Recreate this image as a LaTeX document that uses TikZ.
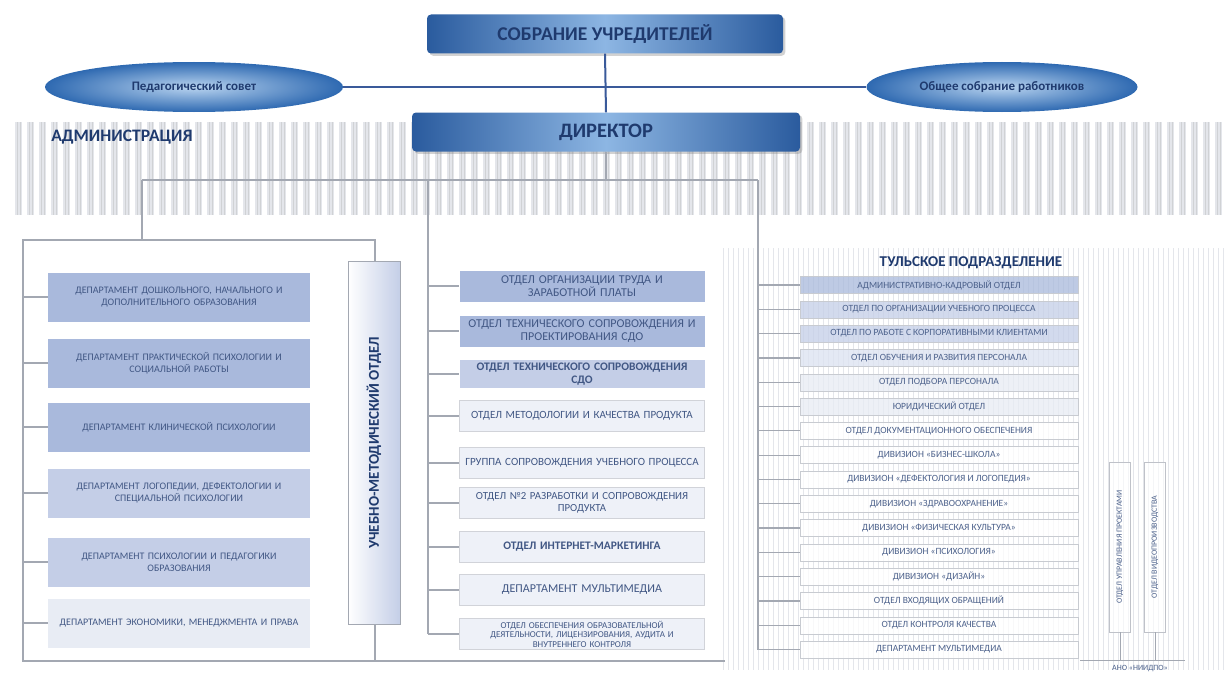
\documentclass[tikz,border=0pt]{standalone}
\usepackage{fontspec}
\setmainfont{Carlito}
\usetikzlibrary{shapes.geometric}
\usetikzlibrary{shadows}

\definecolor{navy}{HTML}{1F3A6E}
\definecolor{linkgray}{HTML}{A3A8B2}
\definecolor{topline}{HTML}{3A5A9A}
\definecolor{darkblue}{HTML}{2A5B9E}
\definecolor{lightblue}{HTML}{8DB6E3}
\definecolor{ovalin}{HTML}{B9D4F0}
\definecolor{ovalout}{HTML}{2E69B1}
\definecolor{deptA}{HTML}{A9B9DC}
\definecolor{deptB}{HTML}{C4CEE7}
\definecolor{deptC}{HTML}{E8ECF4}
\definecolor{paleA}{HTML}{EEF1F8}
\definecolor{stripe}{HTML}{E4E6EB}

\tikzset{
  headbox/.style={rounded corners=4pt, minimum width=356pt, minimum height=39pt,
    left color=darkblue, right color=darkblue, middle color=lightblue,
    drop shadow={opacity=0.35}, text=navy, font=\fontsize{19.5}{21}\selectfont\bfseries},
  ovalbox/.style={ellipse, minimum width=298pt, minimum height=50pt,
    inner color=ovalin, outer color=ovalout, text=navy, font=\fontsize{13}{15}\selectfont\bfseries},
  bandtitle/.style={text=navy, font=\fontsize{17.5}{19}\selectfont\bfseries},
  link/.style={draw=linkgray, line width=1.2pt},
  toplink/.style={draw=topline, line width=2pt},
  deptbox/.style={minimum width=262pt, minimum height=49pt, text width=252pt, align=center,
    text=navy!85, font=\fontsize{10}{12}\selectfont},
  midbox/.style={minimum width=245pt, minimum height=31pt, text width=241pt, align=center,
    inner sep=1pt, text=navy!85, font=\fontsize{12}{13}\selectfont},
  tulbox/.style={minimum width=278pt, minimum height=17pt, inner sep=1pt,
    draw=linkgray!60, text=navy!80, font=\fontsize{9.5}{10}\selectfont},
  vbox/.style={rotate=90, minimum width=170pt, minimum height=21pt, inner sep=1pt,
    draw=linkgray!70, fill=white, fill opacity=0.6, text opacity=1,
    text=navy!80, font=\fontsize{8}{9}\selectfont}
}

\begin{document}
\begin{tikzpicture}[x=1pt,y=-1pt]
  \useasboundingbox (0,0) rectangle (1224,677);
  \fill[white] (0,0) rectangle (1224,677);

  % striped bands
  \foreach \s in {0,...,100} {
    \fill[stripe] ({15+12*\s},122) rectangle ({22+12*\s},215);
    \draw[stripe!80!gray, line width=0.3pt] ({17+12*\s},122) -- ({17+12*\s},215);
    \draw[stripe!80!gray, line width=0.3pt] ({20+12*\s},122) -- ({20+12*\s},215);
  }
  \foreach \s in {0,...,100}
    \draw[stripe, line width=1pt] ({723+5*\s},248) -- ({723+5*\s},670);

  % top level
  \node[headbox] (sobr) at (605,34) {СОБРАНИЕ УЧРЕДИТЕЛЕЙ};
  \node[headbox, minimum width=388pt, font=\fontsize{20.5}{22}\selectfont\bfseries] (dir) at (606,132) {ДИРЕКТОР};
  \node[ovalbox] (pedsov) at (194,87) {Педагогический совет};
  \node[ovalbox, minimum width=271pt] (obsch) at (1002,87) {Общее собрание работников};
  \draw[toplink] (pedsov.east) -- (obsch.west);
  \draw[toplink] (sobr.south) -- (dir.north);
  \node[bandtitle] (adm) at (122,137) {АДМИНИСТРАЦИЯ};

  % branches under the director
  \coordinate (jl) at (142,180);
  \coordinate (jm) at (428,180);
  \coordinate (jr) at (758,180);
  \coordinate (ltop) at (23,240);
  \coordinate (lbot) at (375,661);
  \coordinate (mbot) at (725,661);
  \draw[link] (dir.south) -- (dir.south |- jm);
  \draw[link] (jl) -- (jr);
  \draw[link] (jl) -- (jl |- ltop);
  \draw[link] (ltop) rectangle (lbot);
  \draw[link] (lbot) -- (mbot);

  % departments, left
  \foreach \y/\c/\t [count=\i] in {
      297/deptA/{ДЕПАРТАМЕНТ ДОШКОЛЬНОГО, НАЧАЛЬНОГО И\\ДОПОЛНИТЕЛЬНОГО ОБРАЗОВАНИЯ},
      363/deptA/{ДЕПАРТАМЕНТ ПРАКТИЧЕСКОЙ ПСИХОЛОГИИ И\\СОЦИАЛЬНОЙ РАБОТЫ},
      427/deptA/{ДЕПАРТАМЕНТ КЛИНИЧЕСКОЙ ПСИХОЛОГИИ},
      493/deptB/{ДЕПАРТАМЕНТ ЛОГОПЕДИИ, ДЕФЕКТОЛОГИИ И\\СПЕЦИАЛЬНОЙ ПСИХОЛОГИИ},
      562/deptB/{ДЕПАРТАМЕНТ ПСИХОЛОГИИ И ПЕДАГОГИКИ\\ОБРАЗОВАНИЯ},
      623/deptC/{ДЕПАРТАМЕНТ ЭКОНОМИКИ, МЕНЕДЖМЕНТА И ПРАВА}} {
    \node[deptbox, fill=\c] (d\i) at (179,\y) {\t};
    \draw[link] (ltop |- d\i) -- (d\i.west);
  }
  \node[rotate=90, minimum width=363pt, minimum height=52pt, draw=linkgray,
    left color=white, right color=deptB, text=navy,
    font=\fontsize{15}{17}\selectfont\bfseries] (umo) at (374,443) {УЧЕБНО-МЕТОДИЧЕСКИЙ ОТДЕЛ};

  % departments, middle
  \node[midbox, fill=deptA] (m1) at (582,286) {ОТДЕЛ ОРГАНИЗАЦИИ ТРУДА И\\ЗАРАБОТНОЙ ПЛАТЫ};
  \node[midbox, fill=deptA] (m2) at (582,331) {ОТДЕЛ ТЕХНИЧЕСКОГО СОПРОВОЖДЕНИЯ И\\ПРОЕКТИРОВАНИЯ СДО};
  \node[midbox, fill=deptB, minimum height=28pt, font=\fontsize{11.5}{12.5}\selectfont\bfseries] (m3) at (582,374) {ОТДЕЛ ТЕХНИЧЕСКОГО СОПРОВОЖДЕНИЯ\\СДО};
  \node[midbox, fill=paleA, draw=linkgray!50, font=\fontsize{11}{12}\selectfont] (m4) at (582,416) {ОТДЕЛ МЕТОДОЛОГИИ И КАЧЕСТВА ПРОДУКТА};
  \node[midbox, fill=paleA, draw=linkgray!50, font=\fontsize{11}{12}\selectfont] (m5) at (582,463) {ГРУППА СОПРОВОЖДЕНИЯ УЧЕБНОГО ПРОЦЕССА};
  \node[midbox, fill=paleA, draw=linkgray!50, font=\fontsize{10.8}{12}\selectfont] (m6) at (582,503) {ОТДЕЛ №2 РАЗРАБОТКИ И СОПРОВОЖДЕНИЯ\\ПРОДУКТА};
  \node[midbox, fill=paleA, draw=linkgray!50, font=\fontsize{11.5}{13}\selectfont\bfseries] (m7) at (582,547) {ОТДЕЛ ИНТЕРНЕТ-МАРКЕТИНГА};
  \node[midbox, fill=paleA, draw=linkgray!50] (m8) at (582,590) {ДЕПАРТАМЕНТ МУЛЬТИМЕДИА};
  \node[midbox, fill=paleA, draw=linkgray!50, font=\fontsize{9}{9.6}\selectfont] (m9) at (582,634) {ОТДЕЛ ОБЕСПЕЧЕНИЯ ОБРАЗОВАТЕЛЬНОЙ\\ДЕЯТЕЛЬНОСТИ, ЛИЦЕНЗИРОВАНИЯ, АУДИТА И\\ВНУТРЕННЕГО КОНТРОЛЯ};
  \draw[link] (jm) -- (jm |- m9);
  \foreach \i in {1,...,9}
    \draw[link] (jm |- m\i) -- (m\i.west);

  % Tula branch
  \node[bandtitle, font=\fontsize{15}{17}\selectfont\bfseries] (tula) at (971,263) {ТУЛЬСКОЕ ПОДРАЗДЕЛЕНИЕ};
  \foreach \c/\t [count=\i] in {
      deptA/{АДМИНИСТРАТИВНО-КАДРОВЫЙ ОТДЕЛ},
      deptB/{ОТДЕЛ ПО ОРГАНИЗАЦИИ УЧЕБНОГО ПРОЦЕССА},
      deptB/{ОТДЕЛ ПО РАБОТЕ С КОРПОРАТИВНЫМИ КЛИЕНТАМИ},
      deptB!60!white/{ОТДЕЛ ОБУЧЕНИЯ И РАЗВИТИЯ ПЕРСОНАЛА},
      deptC/{ОТДЕЛ ПОДБОРА ПЕРСОНАЛА},
      deptC/{ЮРИДИЧЕСКИЙ ОТДЕЛ},
      white/{ОТДЕЛ ДОКУМЕНТАЦИОННОГО ОБЕСПЕЧЕНИЯ},
      white/{ДИВИЗИОН «БИЗНЕС-ШКОЛА»},
      white/{ДИВИЗИОН «ДЕФЕКТОЛОГИЯ И ЛОГОПЕДИЯ»},
      white/{ДИВИЗИОН «ЗДРАВООХРАНЕНИЕ»},
      white/{ДИВИЗИОН «ФИЗИЧЕСКАЯ КУЛЬТУРА»},
      white/{ДИВИЗИОН «ПСИХОЛОГИЯ»},
      white/{ДИВИЗИОН «ДИЗАЙН»},
      white/{ОТДЕЛ ВХОДЯЩИХ ОБРАЩЕНИЙ},
      white/{ОТДЕЛ КОНТРОЛЯ КАЧЕСТВА},
      white/{ДЕПАРТАМЕНТ МУЛЬТИМЕДИА}} {
    \node[tulbox, fill=\c, fill opacity=0.75, text opacity=1] (t\i) at (939,{285+24.3*(\i-1)}) {\t};
    \draw[link] (jr |- t\i) -- (t\i.west);
  }
  \draw[link] (jr) -- (jr |- t16);

  % projects and video, ANO
  \node[vbox] (proj) at (1120,547) {ОТДЕЛ УПРАВЛЕНИЯ ПРОЕКТАМИ};
  \node[vbox] (video) at (1155,547) {ОТДЕЛ ВИДЕОПРОИЗВОДСТВА};
  \coordinate (anoL) at (1080,660);
  \coordinate (anoR) at (1185,660);
  \draw[link, line width=0.8pt] (anoL) -- (anoR);
  \draw[link, line width=0.8pt] (proj.west) -- (proj.west |- anoL);
  \draw[link, line width=0.8pt] (video.west) -- (video.west |- anoL);
  \node[text=navy!80, font=\fontsize{8}{9}\selectfont] (ano) at (1140,669) {АНО «НИИДПО»};
\end{tikzpicture}
\end{document}
